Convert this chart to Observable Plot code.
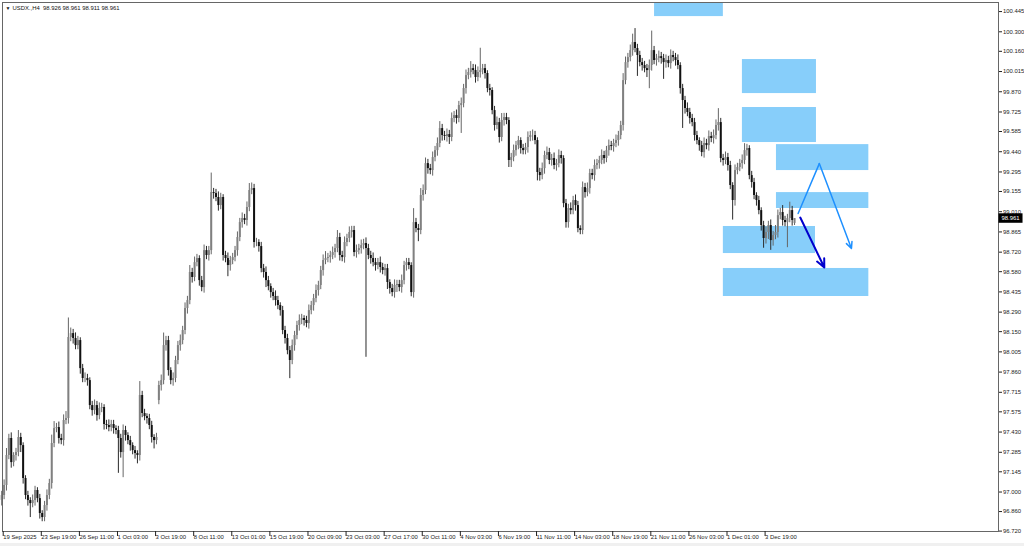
<!DOCTYPE html>
<html><head><meta charset="utf-8">
<script src="https://cdn.jsdelivr.net/npm/d3@7"></script>
<script src="https://cdn.jsdelivr.net/npm/@observablehq/plot@0.6"></script>
<style>
html,body{margin:0;padding:0;background:#fff;}
#chart{position:relative;width:1024px;height:546px;overflow:hidden;background:#fff;}
#strip{position:absolute;left:0;top:543px;width:1024px;height:3px;background:#f0f0f0;}
</style></head><body><div id="chart"><div id="strip"></div></div>
<script>
const title = "USDX.,H4  98.926 98.961 98.911 98.961";
const closes = [
96.975,97.047,97.262,97.384,97.211,97.262,97.283,97.391,97.333,97.097,
96.975,96.939,96.917,96.939,97.011,96.953,96.846,96.817,96.903,96.975,
97.061,97.348,97.455,97.462,97.384,97.369,97.513,97.527,98.108,98.136,
98.101,98.050,98.086,97.885,97.814,97.814,97.799,97.620,97.584,97.620,
97.548,97.599,97.606,97.484,97.477,97.462,97.484,97.455,97.441,97.384,
97.283,97.441,97.405,97.369,97.333,97.297,97.276,97.262,97.692,97.563,
97.541,97.527,97.477,97.391,97.369,97.391,97.764,97.799,98.050,98.086,
97.871,97.799,97.814,97.943,98.050,98.086,98.158,98.316,98.373,98.574,
98.538,98.645,98.674,98.516,98.466,98.731,98.696,98.731,99.147,99.140,
99.112,99.054,99.112,98.696,98.674,98.624,98.660,98.681,98.731,98.825,
98.932,98.961,98.947,99.040,99.162,99.176,98.789,98.789,98.760,98.602,
98.574,98.516,98.473,98.430,98.402,98.373,98.337,98.301,98.158,98.101,
98.014,97.943,98.050,98.122,98.194,98.230,98.244,98.230,98.208,98.301,
98.337,98.387,98.445,98.481,98.588,98.660,98.674,98.681,98.696,98.717,
98.746,98.825,98.696,98.681,98.789,98.818,98.861,98.875,98.717,98.731,
98.746,98.767,98.782,98.746,98.696,98.674,98.645,98.624,98.645,98.610,
98.588,98.602,98.502,98.459,98.430,98.481,98.488,98.466,98.516,98.624,
98.645,98.624,98.430,98.932,98.889,98.875,99.126,99.162,99.355,99.319,
99.305,99.398,99.448,99.499,99.606,99.556,99.549,99.563,99.542,99.678,
99.699,99.678,99.771,99.785,99.893,99.986,100.008,100.036,100.022,99.972,
100.008,100.022,100.036,100.001,99.893,99.879,99.735,99.628,99.649,99.542,
99.664,99.685,99.664,99.377,99.398,99.448,99.484,99.520,99.463,99.448,
99.470,99.542,99.556,99.556,99.520,99.291,99.269,99.319,99.413,99.434,
99.377,99.391,99.341,99.355,99.413,99.391,99.068,98.932,99.033,99.018,
99.090,99.054,98.889,98.875,99.183,99.147,99.176,99.284,99.269,99.341,
99.355,99.377,99.413,99.391,99.448,99.484,99.477,99.499,99.520,99.556,
99.628,99.950,100.079,100.115,100.165,100.223,100.180,100.130,100.079,100.058,
100.036,100.022,100.058,100.165,100.094,100.108,100.122,100.108,100.079,100.094,
100.072,100.130,100.115,100.094,100.058,99.893,99.807,99.750,99.721,99.678,
99.649,99.556,99.520,99.484,99.434,99.499,99.484,99.549,99.535,99.556,
99.628,99.649,99.391,99.377,99.398,99.341,99.198,99.090,99.305,99.327,
99.355,99.377,99.448,99.463,99.269,99.219,99.126,99.090,99.018,98.911,
98.818,98.861,98.911,98.803,98.839,98.861,98.982,99.004,98.947,98.932,
98.961,99.018,98.947,98.961];
const opens = [
96.940,96.975,97.047,97.262,97.384,97.211,97.262,97.283,97.391,97.333,
97.097,96.975,96.939,96.917,96.939,97.011,96.953,96.846,96.817,96.903,
96.975,97.061,97.348,97.455,97.462,97.384,97.369,97.513,97.527,98.108,
98.136,98.101,98.050,98.086,97.885,97.814,97.814,97.799,97.620,97.584,
97.620,97.548,97.599,97.606,97.484,97.477,97.462,97.484,97.455,97.441,
97.384,97.283,97.441,97.405,97.369,97.333,97.297,97.276,97.262,97.692,
97.563,97.541,97.527,97.477,97.391,97.369,97.656,97.764,97.799,98.050,
98.086,97.871,97.799,97.814,97.943,98.050,98.086,98.158,98.316,98.373,
98.574,98.538,98.645,98.674,98.516,98.466,98.731,98.696,98.731,99.147,
99.140,99.112,99.054,99.112,98.696,98.674,98.624,98.660,98.681,98.731,
98.825,98.932,98.961,98.947,99.040,99.162,99.176,98.789,98.789,98.760,
98.602,98.574,98.516,98.473,98.430,98.402,98.373,98.337,98.301,98.158,
98.101,98.014,97.943,98.050,98.122,98.194,98.230,98.244,98.230,98.208,
98.301,98.337,98.387,98.445,98.481,98.588,98.660,98.674,98.681,98.696,
98.717,98.746,98.825,98.696,98.681,98.789,98.818,98.861,98.875,98.717,
98.731,98.746,98.767,98.782,98.746,98.696,98.674,98.645,98.624,98.645,
98.610,98.588,98.602,98.502,98.459,98.430,98.481,98.488,98.466,98.516,
98.624,98.645,98.624,98.430,98.932,98.889,98.875,99.126,99.162,99.355,
99.319,99.305,99.398,99.448,99.499,99.606,99.556,99.549,99.563,99.542,
99.678,99.699,99.678,99.771,99.785,99.893,99.986,100.008,100.036,100.022,
99.972,100.008,100.022,100.036,100.001,99.893,99.879,99.735,99.628,99.649,
99.542,99.664,99.685,99.664,99.377,99.398,99.448,99.484,99.520,99.463,
99.448,99.470,99.542,99.556,99.556,99.520,99.291,99.269,99.319,99.413,
99.434,99.377,99.391,99.341,99.355,99.413,99.391,99.068,98.932,99.033,
99.018,99.090,99.054,98.889,98.875,99.183,99.147,99.176,99.284,99.269,
99.341,99.355,99.377,99.413,99.391,99.448,99.484,99.477,99.499,99.520,
99.556,99.628,99.950,100.079,100.115,100.165,100.223,100.180,100.130,100.079,
100.058,100.036,100.022,100.058,100.165,100.094,100.108,100.122,100.108,100.079,
100.094,100.072,100.130,100.115,100.094,100.058,99.893,99.807,99.750,99.721,
99.678,99.649,99.556,99.520,99.484,99.434,99.499,99.484,99.549,99.535,
99.556,99.628,99.649,99.391,99.377,99.398,99.341,99.198,99.090,99.305,
99.327,99.355,99.377,99.448,99.463,99.269,99.219,99.126,99.090,99.018,
98.911,98.818,98.861,98.911,98.803,98.839,98.861,98.982,99.004,98.947,
98.932,98.961,99.018,98.926];
const upperWicks = [
.03,.04,.05,.03,.04,.02,.03,.05,.03,.02, .02,.03,.02,.04,.03,.02,.03,.02,.03,.04,
.03,.06,.05,.03,.04,.03,.04,.05,.14,.04, .03,.04,.03,.02,.03,.04,.03,.02,.03,.04,
.03,.04,.03,.02,.03,.04,.03,.03,.02,.03, .03,.04,.03,.02,.03,.02,.03,.02,.10,.03,
.03,.02,.03,.03,.02,.03,.03,.04,.09,.03, .03,.02,.04,.03,.03,.04,.03,.04,.03,.05,
.03,.04,.03,.02,.03,.04,.03,.03,.14,.03, .03,.04,.03,.02,.03,.04,.03,.03,.03,.04,
.03,.04,.03,.04,.05,.04,.03,.03,.02,.03, .03,.04,.03,.02,.03,.04,.03,.02,.03,.03,
.03,.03,.04,.03,.03,.04,.03,.02,.03,.04, .03,.03,.04,.03,.03,.04,.05,.03,.03,.04,
.03,.05,.03,.03,.04,.03,.04,.03,.03,.04, .03,.04,.03,.04,.03,.03,.04,.03,.03,.04,
.03,.03,.03,.02,.03,.04,.03,.03,.04,.03, .03,.03,.02,.10,.03,.03,.05,.04,.04,.03,
.03,.04,.03,.04,.05,.03,.03,.04,.03,.04, .03,.04,.03,.04,.03,.04,.03,.05,.03,.04,
.04,.16,.03,.03,.02,.03,.02,.03,.04,.03, .05,.03,.03,.02,.03,.04,.03,.03,.02,.03,
.03,.04,.03,.04,.03,.02,.03,.04,.03,.04, .03,.03,.04,.03,.04,.03,.02,.03,.03,.04,
.03,.04,.03,.02,.04,.03,.04,.03,.03,.04, .03,.03,.04,.03,.03,.04,.03,.03,.04,.03,
.03,.05,.04,.03,.04,.06,.10,.03,.03,.03, .03,.03,.04,.14,.03,.03,.04,.03,.03,.04,
.03,.04,.03,.03,.04,.02,.03,.03,.04,.03, .03,.03,.03,.02,.03,.04,.03,.04,.03,.04,
.04,.10,.03,.03,.04,.03,.03,.02,.04,.03, .03,.04,.05,.03,.02,.03,.03,.02,.03,.02,
.03,.04,.03,.04,.03,.05,.04,.03,.05,.03, .03,.06,.03,0];
const lowerWicks = [
.04,.03,.04,.03,.04,.03,.04,.03,.05,.04, .03,.04,.10,.03,.04,.03,.04,.03,.03,.04,
.03,.04,.03,.03,.04,.03,.04,.03,.04,.03, .04,.03,.03,.04,.03,.03,.04,.03,.04,.03,
.04,.03,.03,.04,.03,.03,.03,.04,.03,.25, .04,.18,.04,.03,.04,.03,.04,.06,.04,.03,
.03,.04,.03,.04,.06,.03,.03,.04,.03,.04, .04,.03,.04,.03,.03,.04,.03,.03,.04,.03,
.04,.03,.03,.04,.03,.04,.03,.04,.03,.04, .03,.04,.03,.04,.03,.08,.04,.03,.03,.04,
.03,.04,.03,.04,.03,.03,.04,.03,.04,.03, .04,.05,.03,.04,.03,.04,.03,.04,.03,.04,
.03,.13,.03,.04,.03,.04,.03,.04,.03,.04, .03,.04,.03,.04,.03,.04,.03,.03,.04,.03,
.04,.03,.04,.03,.04,.03,.03,.04,.03,.04, .03,.04,.03,.78,.03,.04,.03,.04,.03,.04,
.03,.04,.05,.04,.03,.04,.05,.03,.04,.03, .04,.03,.03,.04,.03,.08,.03,.04,.03,.04,
.03,.04,.03,.04,.03,.04,.03,.04,.05,.03, .03,.04,.03,.20,.03,.04,.03,.04,.03,.04,
.03,.04,.03,.04,.03,.04,.03,.04,.03,.04, .03,.04,.03,.05,.05,.03,.04,.03,.04,.03,
.03,.04,.03,.04,.03,.06,.04,.03,.04,.03, .03,.04,.03,.04,.03,.04,.03,.04,.04,.03,
.03,.04,.03,.03,.03,.04,.03,.04,.03,.04, .03,.04,.03,.04,.03,.04,.03,.04,.03,.04,
.03,.04,.03,.04,.03,.04,.03,.15,.03,.04, .03,.05,.13,.04,.03,.04,.03,.04,.12,.04,
.03,.04,.03,.04,.03,.04,.20,.04,.03,.04, .03,.04,.03,.04,.03,.04,.03,.04,.03,.04,
.03,.04,.03,.04,.03,.04,.03,.14,.04,.03, .03,.04,.03,.04,.03,.04,.03,.04,.03,.04,
.07,.04,.05,.07,.04,.03,.04,.03,.04,.03, .18,.03,.04,.015];

const xTickBars = [0,16,32,48,64,80,96,112,128,144,160,176,192,208,224,240,256,272,288,304,320];
const xTickLabels = ["19 Sep 2025","23 Sep 19:00","26 Sep 11:00","1 Oct 03:00","3 Oct 19:00","8 Oct 11:00",
"13 Oct 01:00","15 Oct 19:00","20 Oct 09:00","23 Oct 03:00","27 Oct 17:00","30 Oct 11:00","4 Nov 03:00",
"6 Nov 19:00","11 Nov 11:00","14 Nov 03:00","18 Nov 19:00","21 Nov 11:00","26 Nov 03:00","1 Dec 01:00","3 Dec 19:00"];
const yTicks = [100.445,100.300,100.160,100.015,99.870,99.725,99.585,99.440,99.295,99.155,99.010,98.865,98.720,
98.580,98.435,98.290,98.150,98.005,97.860,97.715,97.575,97.430,97.285,97.145,97.000,96.860,96.720];

const zoneX1 = [274.2,311.1,311.1,325.4,325.4,303.1,303.1];
const zoneX2 = [303.1,342.2,342.2,364.2,364.2,341.8,364.2];
const zoneTop = [100.53,100.101,99.757,99.491,99.147,98.904,98.603];
const zoneBottom = [100.409,99.857,99.506,99.305,99.033,98.710,98.402];

const scenarioBars = [334.5,343.4,356.9];
const scenarioPrices = [98.997,99.355,98.746];
const dropBars = [335.4,345.5];
const dropPrices = [98.968,98.610];

const xDomain = [0.33, 418.66];
const yDomain = [96.717, 100.510];

const candles = closes.map((c, i) => {
  const o = opens[i];
  return {i, o, c, h: Math.max(o, c) + upperWicks[i], l: Math.min(o, c) - lowerWicks[i], up: c >= o};
});
const bulls = candles.filter(d => d.up);
const bears = candles.filter(d => !d.up);
const zones = zoneX1.map((x1, k) => ({x1, x2: zoneX2[k], y1: zoneTop[k], y2: zoneBottom[k]}));
const lastClose = closes[closes.length - 1];
const fontFamily = "Liberation Sans, Arial, sans-serif";
const fs = 5.9;

const chart = Plot.plot({
  width: 1024, height: 543,
  marginLeft: 2, marginRight: 26, marginTop: 2, marginBottom: 12,
  x: {domain: xDomain, axis: null},
  y: {domain: yDomain, axis: null},
  style: {fontFamily, fontSize: fs + "px", color: "#222", background: "transparent", overflow: "visible"},
  marks: [
    Plot.rect(zones, {x1: "x1", x2: "x2", y1: "y1", y2: "y2", fill: "#87cefa", clip: true}),
    Plot.ruleX(bulls, {x: "i", y1: "l", y2: "h", stroke: "#666", strokeWidth: 1}),
    Plot.ruleX(bears, {x: "i", y1: "l", y2: "h", stroke: "#2a2a2a", strokeWidth: 1}),
    Plot.ruleX(bulls, {x: "i", y1: "o", y2: "c", stroke: "#808080", strokeWidth: 2}),
    Plot.ruleX(bears, {x: "i", y1: "o", y2: "c", stroke: "#111", strokeWidth: 2}),
    Plot.line(scenarioBars.slice(0, 2).map((b, k) => ({b, p: scenarioPrices[k]})), {x: "b", y: "p", stroke: "#1e90ff", strokeWidth: 1.5}),
    Plot.arrow([{x1: scenarioBars[1], y1: scenarioPrices[1], x2: scenarioBars[2], y2: scenarioPrices[2]}],
      {x1: "x1", y1: "y1", x2: "x2", y2: "y2", stroke: "#1e90ff", strokeWidth: 1.5, headLength: 7, headAngle: 50}),
    Plot.arrow([{x1: dropBars[0], y1: dropPrices[0], x2: dropBars[1], y2: dropPrices[1]}],
      {x1: "x1", y1: "y1", x2: "x2", y2: "y2", stroke: "#0000cd", strokeWidth: 2, headLength: 7, headAngle: 50}),
    Plot.frame({stroke: "#666"}),
    Plot.axisY({anchor: "right", ticks: yTicks, tickFormat: d3.format(".3f"), tickSize: 3, tickPadding: 1.5, fontSize: fs, fill: "#222"}),
    Plot.axisX({anchor: "bottom", ticks: xTickBars, tickFormat: d => xTickLabels[xTickBars.indexOf(d)],
      tickSize: 5, tickPadding: -1.5, textAnchor: "start", dx: 1.5, fontSize: fs, fill: "#222"}),
    Plot.rect([lastClose], {x1: xDomain[1] + 0.2, x2: xDomain[1] + 10.3, y1: d => d + 0.034, y2: d => d - 0.034, fill: "#000"}),
    Plot.text([lastClose], {x: xDomain[1], y: d => d, text: d3.format(".3f"), dx: 3, textAnchor: "start", fill: "#fff", fontSize: fs}),
    Plot.text(["\u25BC"], {frameAnchor: "top-left", dx: 3, dy: 3.5, textAnchor: "start", lineAnchor: "top", fontSize: 5, fill: "#111"}),
    Plot.text([title], {frameAnchor: "top-left", dx: 10, dy: 3, textAnchor: "start", lineAnchor: "top", fontSize: fs, fill: "#111"})
  ]
});
chart.style.position = "absolute";
chart.style.left = "0px";
chart.style.top = "0px";
document.getElementById("chart").appendChild(chart);
</script>
</body></html>
